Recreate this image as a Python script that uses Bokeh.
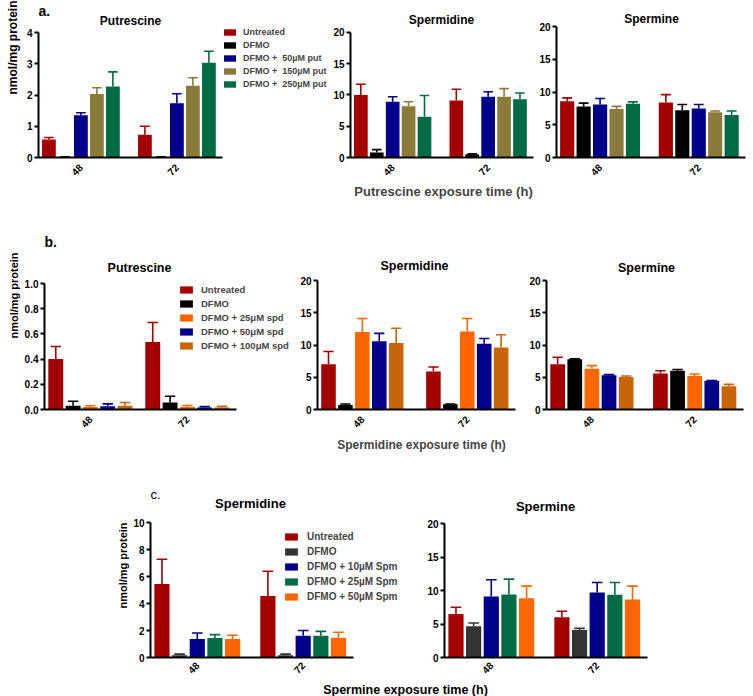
from math import pi
from bokeh.plotting import figure
from bokeh.models import (ColumnDataSource, Legend, LegendItem, Label, Range1d,
                          FixedTicker, PrintfTickFormatter, CustomJSTickFormatter)
from bokeh.layouts import row, column
from bokeh.embed import file_html
from bokeh.resources import INLINE

FONT = "Liberation Sans"

times = ["48", "72"]

# ---------------- panel a: putrescine exposure ----------------
a_treat = ["Untreated", "DFMO", "DFMO +  50µM put", "DFMO +  150µM put", "DFMO +  250µM put"]
a_colors = ["#a50000", "#000000", "#00008b", "#8b7b3a", "#006b45"]
a_put_48 = [0.58, 0.02, 1.35, 2.03, 2.27]
a_put_48_err = [0.06, 0.0, 0.08, 0.20, 0.47]
a_put_72 = [0.73, 0.02, 1.74, 2.30, 3.03]
a_put_72_err = [0.27, 0.0, 0.30, 0.25, 0.37]
a_spd_48 = [10.0, 0.8, 8.9, 8.2, 6.5]
a_spd_48_err = [1.7, 0.45, 0.8, 0.7, 3.4]
a_spd_72 = [9.1, 0.5, 9.7, 9.7, 9.3]
a_spd_72_err = [1.8, 0.1, 0.8, 1.3, 1.0]
a_spm_48 = [8.6, 7.8, 8.1, 7.4, 8.2]
a_spm_48_err = [0.5, 0.5, 0.9, 0.4, 0.3]
a_spm_72 = [8.4, 7.2, 7.5, 6.9, 6.5]
a_spm_72_err = [1.2, 0.9, 0.6, 0.2, 0.6]

# ---------------- panel b: spermidine exposure ----------------
b_treat = ["Untreated", "DFMO", "DFMO + 25μM spd", "DFMO + 50μM spd", "DFMO + 100μM spd"]
b_colors = ["#a50000", "#000000", "#ff6600", "#00008b", "#c8640a"]
b_put_48 = [0.40, 0.03, 0.02, 0.025, 0.03]
b_put_48_err = [0.10, 0.035, 0.01, 0.02, 0.025]
b_put_72 = [0.535, 0.055, 0.02, 0.015, 0.015]
b_put_72_err = [0.155, 0.05, 0.012, 0.008, 0.01]
b_spd_48 = [7.0, 0.7, 12.0, 10.6, 10.3]
b_spd_48_err = [2.0, 0.15, 2.1, 1.2, 2.3]
b_spd_72 = [5.9, 0.8, 12.1, 10.2, 9.6]
b_spd_72_err = [0.7, 0.05, 2.0, 0.8, 2.0]
b_spm_48 = [7.0, 7.8, 6.3, 5.3, 5.05]
b_spm_48_err = [1.1, 0.05, 0.5, 0.1, 0.15]
b_spm_72 = [5.6, 6.0, 5.2, 4.45, 3.6]
b_spm_72_err = [0.4, 0.2, 0.3, 0.05, 0.3]

# ---------------- panel c: spermine exposure ----------------
c_treat = ["Untreated", "DFMO", "DFMO + 10µM Spm", "DFMO + 25µM Spm", "DFMO + 50µM Spm"]
c_colors = ["#a50000", "#333333", "#00008b", "#006b45", "#ff6600"]
c_spd_48 = [5.45, 0.17, 1.38, 1.45, 1.38]
c_spd_48_err = [1.85, 0.08, 0.44, 0.25, 0.27]
c_spd_72 = [4.57, 0.17, 1.62, 1.62, 1.47]
c_spd_72_err = [1.84, 0.08, 0.38, 0.32, 0.40]
c_spm_48 = [6.5, 4.65, 9.1, 9.4, 8.85]
c_spm_48_err = [1.0, 0.5, 2.5, 2.3, 1.8]
c_spm_72 = [6.0, 4.1, 9.7, 9.35, 8.65]
c_spm_72_err = [0.9, 0.25, 1.5, 1.85, 2.0]


def panel(W, H, L, B, ax_len, ytop_px, ymax, ystep, gap, m48, e48, m72, e72, colors,
          yfmt=None, lab_standoff=2):
    """Frame covers the whole figure except left (y axis) and bottom (x axis) borders;
    the visible axes are limited with `bounds`."""
    x0, x1 = -0.15, gap + 5.35
    s = ax_len / (x1 - x0)                    # px per x unit
    fw, fh = W - L, H - B
    ypu = ytop_px / ymax                      # px per y unit
    p = figure(width=W, height=H, output_backend="svg", toolbar_location=None,
               x_range=Range1d(x0, x0 + fw / s), y_range=Range1d(0, fh / ypu),
               min_border_left=L, min_border_right=0, min_border_top=0,
               min_border_bottom=B)
    xs, tops, etops, cols, cx0, cx1 = [], [], [], [], [], []
    for g, (ms, es) in enumerate([(m48, e48), (m72, e72)]):
        for i in range(5):
            x = g * gap + i + 0.5
            xs.append(x)
            tops.append(ms[i])
            etops.append(ms[i] + es[i])
            cols.append(colors[i])
            cx0.append(x - 0.3)
            cx1.append(x + 0.3)
    src = ColumnDataSource(dict(x=xs, top=tops, etop=etops, color=cols, cx0=cx0, cx1=cx1))
    bars = p.vbar(x="x", top="top", width=0.86, fill_color="color", line_color=None, source=src)
    p.segment(x0="x", y0="top", x1="x", y1="etop", line_color="color", line_width=1.6, source=src)
    p.segment(x0="cx0", y0="etop", x1="cx1", y1="etop", line_color="color", line_width=1.6, source=src)

    p.grid.visible = False
    p.outline_line_color = None
    for ax in (p.xaxis[0], p.yaxis[0]):
        ax.axis_line_width = 2
        ax.axis_line_color = "black"
        ax.major_label_text_font = FONT
        ax.major_label_text_font_style = "bold"
        ax.major_label_text_font_size = "10px"
        ax.major_label_text_color = "black"
        ax.minor_tick_line_color = None
        ax.major_label_standoff = 2
    nt = int(round(ymax / ystep))
    p.yaxis.ticker = FixedTicker(ticks=[round(k * ystep, 6) for k in range(nt + 1)])
    p.yaxis.bounds = (0, ymax)
    p.yaxis.major_tick_out = 4
    p.yaxis.major_tick_in = 0
    p.yaxis.major_tick_line_width = 2
    if yfmt:
        p.yaxis.formatter = PrintfTickFormatter(format=yfmt)
    p.xaxis.bounds = (x0, x1)
    p.xaxis.ticker = FixedTicker(ticks=[2.5, gap + 2.5])
    p.xaxis.formatter = CustomJSTickFormatter(args=dict(labels=times, gap=gap),
                                              code="return labels[Math.round((tick - 2.5) / gap)]")
    p.xaxis.major_tick_line_color = None
    p.xaxis.major_label_orientation = pi / 4
    p.xaxis.major_label_standoff = lab_standoff
    return p, bars


def text(p, t, x, y, size, style="bold", align="center", angle=0.0):
    p.add_layout(Label(x=x, y=y, x_units="screen", y_units="screen", text=t, angle=angle,
                       text_font=FONT, text_font_size=size, text_font_style=style,
                       text_baseline="middle", text_align=align, text_color="black"))


def xlabel(p, t, size, standoff):
    p.xaxis.axis_label = t
    p.xaxis.axis_label_text_font = FONT
    p.xaxis.axis_label_text_font_size = size
    p.xaxis.axis_label_text_font_style = "bold"
    p.xaxis.axis_label_standoff = standoff


def legend(p, bars, labels, loc, font_size, lab_h, glyph_w, glyph_h, spacing, standoff):
    items = [LegendItem(label=labels[i], renderers=[bars], index=i) for i in range(5)]
    lg = Legend(items=items, location=loc, padding=0, margin=0, spacing=spacing,
                label_height=lab_h, glyph_height=glyph_h, glyph_width=glyph_w,
                label_standoff=standoff, label_text_font=FONT, label_text_font_size=font_size,
                label_text_font_style="bold", border_line_color=None,
                background_fill_alpha=0)
    p.add_layout(lg, "center")


def strip(W, H):
    s = figure(width=W, height=H, output_backend="svg", toolbar_location=None,
               x_range=Range1d(0, W), y_range=Range1d(0, H), x_axis_type=None,
               y_axis_type=None, min_border_left=0, min_border_right=0,
               min_border_top=0, min_border_bottom=0)
    s.grid.visible = False
    s.outline_line_color = None
    return s


# ---- row a (y 0..205) ----
YA = strip(22, 205)
text(YA, "nmol/mg protein", 12, 110, "12px", angle=pi / 2)
A1, A1b = panel(306, 205, 16, 48, 184, 125, 4, 1, 6.0, a_put_48, a_put_48_err, a_put_72, a_put_72_err,
                a_colors)
legend(A1, A1b, a_treat, (184, 68), "9px", 10, 15, 8, 3, 6)
text(A1, "a.", 0, 147, "14px", align="left")
text(A1, "Putrescine", 92, 137, "12px")
A2, _ = panel(208, 205, 22, 47, 183, 126, 20, 5, 6.0, a_spd_48, a_spd_48_err, a_spd_72, a_spd_72_err,
              a_colors)
text(A2, "Spermidine", 91, 138, "12px")
xlabel(A2, "Putrescine exposure time (h)", "13px", 2)
A3, _ = panel(217, 205, 17, 48, 192, 131, 20, 5, 6.0, a_spm_48, a_spm_48_err, a_spm_72, a_spm_72_err,
              a_colors)
text(A3, "Spermine", 95, 139, "12px")

# ---- row b (y 205..460) ----
YB = strip(21, 255)
text(YB, "nmol/mg protein", 13, 114, "11px", angle=pi / 2)
B1, B1b = panel(274, 255, 22, 51, 193, 126, 1.0, 0.2, 5.6, b_put_48, b_put_48_err, b_put_72, b_put_72_err,
                b_colors, yfmt="%.1f")
legend(B1, B1b, b_treat, (134, 58), "9.5px", 11, 16, 9, 3, 7)
text(B1, "b.", 0, 168, "14px", align="left")
text(B1, "Putrescine", 95, 142, "12.5px")
B2, _ = panel(230, 255, 22, 51, 198, 129, 20, 5, 6.2, b_spd_48, b_spd_48_err, b_spd_72, b_spd_72_err,
              b_colors)
text(B2, "Spermidine", 97, 144, "12.5px")
xlabel(B2, "Spermidine exposure time (h)", "12px", 4)
B3, _ = panel(228, 255, 21, 51, 197, 129, 20, 5, 6.0, b_spm_48, b_spm_48_err, b_spm_72, b_spm_72_err,
              b_colors)
text(B3, "Spermine", 100, 142, "12.5px")

# ---- row c (y 460..682) ----
YC = strip(130, 222)
text(YC, "nmol/mg protein", 122, 92, "11px", angle=pi / 2)
C1, C1b = panel(288, 222, 20, 23, 203, 136, 10, 2, 6.0, c_spd_48, c_spd_48_err, c_spd_72, c_spd_72_err,
                c_colors, lab_standoff=0)
legend(C1, C1b, c_treat, (133, 55), "10px", 12, 16, 9, 3, 8)
text(C1, "c.", 0, 163, "13px", style="normal", align="left")
text(C1, "Spermidine", 100, 154, "13px")
C2, _ = panel(335, 222, 26, 25, 203, 134, 20, 5, 6.0, c_spm_48, c_spm_48_err, c_spm_72, c_spm_72_err,
              c_colors, lab_standoff=0)
text(C2, "Spermine", 101, 151, "13px")

# ---- shared x label of panel c (y 682..696) ----
SC = strip(753, 14)
text(SC, "Spermine exposure time (h)", 405, 7, "12.5px")

layout = column(row(YA, A1, A2, A3), row(YB, B1, B2, B3), row(YC, C1, C2), SC)

open("out.html", "w").write(file_html(layout, INLINE))
